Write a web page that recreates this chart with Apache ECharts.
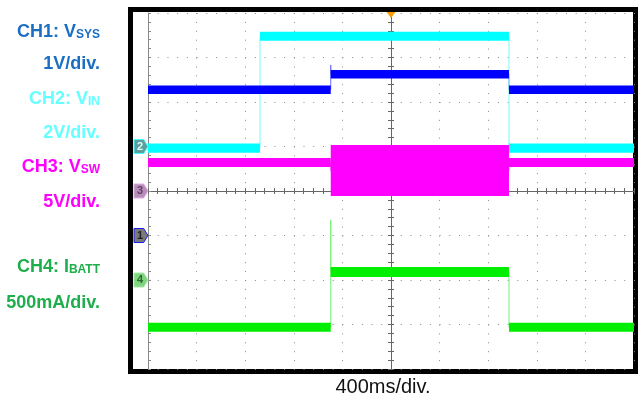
<!DOCTYPE html>
<html>
<head>
<meta charset="utf-8">
<script src="https://cdn.jsdelivr.net/npm/echarts@6/dist/echarts.min.js"></script>
<style>
html,body{margin:0;padding:0;background:#fff;}
#c{width:638px;height:398px;}
</style>
</head>
<body>
<div id="c"></div>
<script>
// ---- Data (time in ms, 400 ms/div) ----
// CH1: VSYS (V), 1 V/div
const ch1Breaks = [0, 1504, 2971, 4000];
const ch1Low    = [3.18, 3.53, 3.18];
const ch1High   = [3.37, 3.72, 3.37];
const ch1Spikes = {1: 3.83};
// CH2: VIN (V), 2 V/div
const ch2Breaks = [0, 922, 2971, 4000];
const ch2Low    = [-0.28, 4.75, -0.28];
const ch2High   = [0.13, 5.16, 0.13];
const ch2Spikes = {};
// CH3: VSW (V), 5 V/div
const ch3Breaks = [0, 1504, 2971, 4000];
const ch3Low    = [2.70, -0.56, 2.70];
const ch3High   = [3.71, 5.17, 3.71];
const ch3Spikes = {};
// CH4: IBATT (mA), 500 mA/div
const ch4Breaks = [0, 1504, 2971, 4000];
const ch4Low    = [-581, 34, -581];
const ch4High   = [-480, 146, -480];
const ch4Spikes = {1: 674};

const labelTexts = [
  ['CH1: V', 'SYS'], ['1V/div.', ''],
  ['CH2: V', 'IN'],  ['2V/div.', ''],
  ['CH3: V', 'SW'],  ['5V/div.', ''],
  ['CH4: I', 'BATT'],['500mA/div.', '']
];
const timeLabel = '400ms/div.';

// ---- helpers ----
function bandData(breaks, lo, hi) {
  const out = [];
  for (let i = 0; i < lo.length; i++) out.push([breaks[i], breaks[i + 1], lo[i], hi[i]]);
  return out;
}
function stepData(breaks, lo, hi, spikes) {
  const out = [];
  for (let i = 0; i < lo.length; i++) {
    const mid = (lo[i] + hi[i]) / 2;
    if (i > 0 && spikes[i] !== undefined) out.push([breaks[i], spikes[i]]);
    out.push([breaks[i], mid]);
    out.push([breaks[i + 1], mid]);
  }
  return out;
}
function bandSeries(name, yIdx, breaks, lo, hi, color) {
  return {
    name: name, type: 'custom', xAxisIndex: 0, yAxisIndex: yIdx, z: 5,
    data: bandData(breaks, lo, hi), silent: true, clip: true,
    encode: {x: [0, 1], y: [2, 3]},
    renderItem: function (params, api) {
      const p1 = api.coord([api.value(0), api.value(3)]);
      const p2 = api.coord([api.value(1), api.value(2)]);
      return {type: 'rect', shape: {x: p1[0], y: p1[1], width: p2[0] - p1[0], height: p2[1] - p1[1]},
              style: {fill: color}};
    }
  };
}
function chMarker(num, fill, border, textColor) {
  return {
    symbol: 'path://M0,0 L9,0 L13,6.5 L9,13 L0,13 Z', symbolSize: [14, 14], symbolOffset: [-7, 0],
    itemStyle: {color: fill, borderColor: border, borderWidth: 1},
    label: {show: true, position: 'inside', formatter: String(num), color: textColor, fontSize: 11,
            fontWeight: 'bold', fontFamily: 'Liberation Sans, Arial', offset: [-1, 0]},
    z: 10,
    data: [{coord: [0, 0]}]
  };
}
function stepSeries(name, yIdx, breaks, lo, hi, spikes, color, marker) {
  return {
    name: name, type: 'line', xAxisIndex: 0, yAxisIndex: yIdx, data: stepData(breaks, lo, hi, spikes),
    showSymbol: false, silent: true, z: 3, lineStyle: {color: color, width: 1}, animation: false,
    markPoint: marker
  };
}

const dotGray = '#8a8a8a';
const axisGray = '#666';
const hiddenY = (min, max, iv) => ({type: 'value', min: min, max: max, interval: iv, show: false,
  axisLine: {onZero: false}, splitLine: {show: false}});

const chart = echarts.init(document.getElementById('c'), null, {renderer: 'canvas'});
const ch3Marker = chMarker(3, '#b68fb6', '#e8a8e8', '#6a3a6a');
ch3Marker.data.push({coord: [2000, 20], symbol: 'triangle', symbolRotate: 180, symbolSize: [9, 6],
  symbolOffset: [0, 2], itemStyle: {color: '#ff9d00', borderWidth: 0}, label: {show: false}});

const option = {
  animation: false,
  backgroundColor: '#ffffff',
  grid: {left: 148, top: 13, width: 486, height: 356, show: false},
  xAxis: [
    {type: 'value', min: 0, max: 4000, interval: 400, axisLine: {show: false}, axisTick: {show: false},
     axisLabel: {show: false}, splitLine: {show: true, lineStyle: {color: dotGray, width: 1, type: [1, 7.9]}}},
    {type: 'value', min: 0, max: 4000, interval: 400, position: 'bottom',
     axisLine: {show: true, onZero: true, onZeroAxisIndex: 0, lineStyle: {color: axisGray, width: 1}},
     axisTick: {show: true, length: 3, lineStyle: {color: axisGray}},
     minorTick: {show: true, splitNumber: 5, length: 3, lineStyle: {color: axisGray}},
     axisLabel: {show: false}, splitLine: {show: false}},
    {type: 'value', min: 0, max: 4000, interval: 400, position: 'top',
     axisLine: {show: true, onZero: true, onZeroAxisIndex: 0, lineStyle: {color: axisGray, width: 1}},
     axisTick: {show: true, length: 3, lineStyle: {color: axisGray}},
     minorTick: {show: true, splitNumber: 5, length: 3, lineStyle: {color: axisGray}},
     axisLabel: {show: false}, splitLine: {show: false}}
  ],
  yAxis: [
    {type: 'value', min: -20, max: 20, interval: 5, position: 'left',
     axisLine: {show: true, onZero: false, lineStyle: {color: '#8a8a8a', width: 1}},
     axisTick: {show: true, inside: true, length: 3, lineStyle: {color: '#8a8a8a'}},
     minorTick: {show: true, splitNumber: 5, length: 3, lineStyle: {color: '#8a8a8a'}},
     axisLabel: {show: false},
     splitLine: {show: true, lineStyle: {color: dotGray, width: 1, type: [1, 8.72]}}},
    hiddenY(-3, 5, 1),
    hiddenY(-10, 6, 2),
    hiddenY(-1000, 3000, 500),
    {type: 'value', min: -20, max: 20, interval: 5, position: 'left', offset: -243,
     axisLine: {show: true, onZero: false, lineStyle: {color: axisGray, width: 1}},
     axisTick: {show: true, length: 3, lineStyle: {color: axisGray}},
     minorTick: {show: true, splitNumber: 5, length: 3, lineStyle: {color: axisGray}},
     axisLabel: {show: false}, splitLine: {show: false}},
    {type: 'value', min: -20, max: 20, interval: 5, position: 'right', offset: -243,
     axisLine: {show: true, onZero: false, lineStyle: {color: axisGray, width: 1}},
     axisTick: {show: true, length: 3, lineStyle: {color: axisGray}},
     minorTick: {show: true, splitNumber: 5, length: 3, lineStyle: {color: axisGray}},
     axisLabel: {show: false}, splitLine: {show: false}}
  ],
  series: [
    bandSeries('CH1', 1, ch1Breaks, ch1Low, ch1High, '#0000ff'),
    stepSeries('CH1s', 1, ch1Breaks, ch1Low, ch1High, ch1Spikes, '#6f6fff',
      chMarker(1, '#7a7a7a', '#1a1aff', '#222')),
    bandSeries('CH2', 2, ch2Breaks, ch2Low, ch2High, '#00ffff'),
    stepSeries('CH2s', 2, ch2Breaks, ch2Low, ch2High, ch2Spikes, '#7ff7f7',
      chMarker(2, '#5e9e9a', '#40ffff', '#d8ffff')),
    bandSeries('CH3', 0, ch3Breaks, ch3Low, ch3High, '#ff00ff'),
    stepSeries('CH3s', 0, ch3Breaks, ch3Low, ch3High, ch3Spikes, '#ff55ff', ch3Marker),
    bandSeries('CH4', 3, ch4Breaks, ch4Low, ch4High, '#00ee00'),
    stepSeries('CH4s', 3, ch4Breaks, ch4Low, ch4High, ch4Spikes, '#77f077',
      chMarker(4, '#7fd47f', '#a8e8a8', '#2a6a2a'))
  ],
  graphic: []
};

// frame
option.graphic.push({type: 'rect', z: -10, silent: true,
  shape: {x: 130.5, y: 9.5, width: 505, height: 362}, style: {fill: '#fff', stroke: '#000', lineWidth: 5}});
// time/div label
option.graphic.push({type: 'text', x: 383, y: 387, silent: true,
  style: {text: timeLabel, align: 'center', verticalAlign: 'middle', fill: '#111',
          font: '20px "Liberation Sans", Arial, sans-serif'}});
// channel labels
const labelColors = ['#1b6fc2', '#1b6fc2', '#66ffff', '#66ffff', '#ff00ff', '#ff00ff', '#1fae4c', '#1fae4c'];
const labelY = [31, 63, 98, 132, 166, 201, 266, 302];
labelTexts.forEach((t, i) => {
  const txt = t[1] ? '{m|' + t[0] + '}{s|' + t[1] + '}' : '{m|' + t[0] + '}';
  option.graphic.push({type: 'text', x: 100, y: labelY[i], silent: true,
    style: {text: txt, align: 'right', verticalAlign: 'middle', fill: labelColors[i],
      rich: {
        m: {fontSize: 18, fontWeight: 'bold', fontFamily: '"Liberation Sans", Arial', fill: labelColors[i], lineHeight: 20, verticalAlign: 'bottom'},
        s: {fontSize: 12, fontWeight: 'bold', fontFamily: '"Liberation Sans", Arial', fill: labelColors[i], lineHeight: 16, verticalAlign: 'bottom'}
      }}});
});

chart.setOption(option);
</script>
</body>
</html>
